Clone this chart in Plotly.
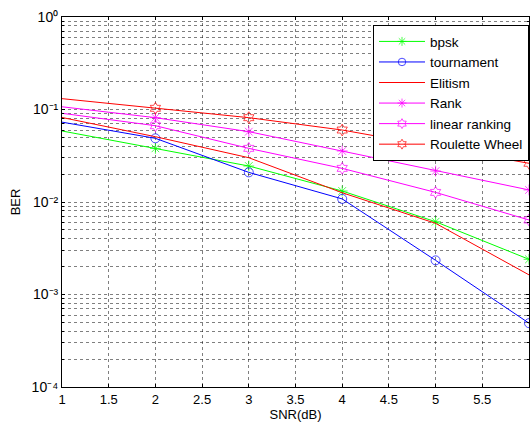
import plotly.graph_objects as go

# SNR points (dB) and BER per selection scheme
snr = [1, 2, 3, 4, 5, 6]
ber_bpsk = [0.0586, 0.038, 0.0245, 0.01315, 0.00612, 0.00240]
ber_tournament = [0.073, 0.0488, 0.0209, 0.0108, 0.00234, 0.00049]
ber_elitism = [0.082, 0.0508, 0.0301, 0.0126, 0.00588, 0.00163]
ber_rank = [0.107, 0.0816, 0.0576, 0.0356, 0.0216, 0.0135]
ber_linear = [0.091, 0.0668, 0.038, 0.0231, 0.0127, 0.00639]
ber_roulette = [0.131, 0.103, 0.0816, 0.060, 0.040, 0.0262]

x_ticks = [1, 1.5, 2, 2.5, 3, 3.5, 4, 4.5, 5, 5.5, 6]
decades = [-4, -3, -2, -1, 0]
decade_labels = ["10⁻⁴", "10⁻³", "10⁻²", "10⁻¹", "10⁰"]

FONT = "Liberation Sans, Arial, sans-serif"

series = [
    ("bpsk", ber_bpsk, "rgb(0,255,0)", "asterisk-open"),
    ("tournament", ber_tournament, "rgb(0,0,255)", "circle-open"),
    ("Elitism", ber_elitism, "rgb(255,0,0)", None),
    ("Rank", ber_rank, "rgb(255,0,255)", "asterisk-open"),
    ("linear ranking", ber_linear, "rgb(255,0,255)", "hexagram-open"),
    ("Roulette Wheel", ber_roulette, "rgb(255,0,0)", "hexagram-open"),
]

fig = go.Figure()
for name, vals, color, sym in series:
    if sym is None:
        fig.add_trace(go.Scatter(x=snr, y=vals, name=name, mode="lines",
                                 line=dict(color=color, width=1)))
    else:
        # first sample sits on the left axis edge and carries no marker
        sizes = [0] + [9] * (len(snr) - 1)
        fig.add_trace(go.Scatter(x=snr, y=vals, name=name, mode="lines+markers",
                                 line=dict(color=color, width=1),
                                 marker=dict(symbol=sym, size=sizes, color=color,
                                             line=dict(color=color, width=1))))

# decade labels on the log axis, mantissas 2..9 as minor grid
y_major = [10.0 ** d for d in decades]
y_minor = [m * 10.0 ** d for d in decades[:-1] for m in range(2, 10)]

grid = dict(showgrid=True, gridcolor="rgba(0,0,0,0.5)", griddash="dot", gridwidth=1)

fig.update_layout(
    width=530, height=424,
    margin=dict(l=62, r=1, t=17, b=37),
    paper_bgcolor="white", plot_bgcolor="white",
    font=dict(family=FONT, size=13, color="black"),
    xaxis=dict(range=[1, 6], tickvals=x_ticks, ticktext=[f"{v:g}" for v in x_ticks],
               title=dict(text="SNR(dB)", standoff=4, font=dict(size=13)),
               showline=True, linecolor="black", linewidth=1, mirror="allticks",
               ticks="inside", ticklen=3, tickcolor="black", zeroline=False, **grid),
    yaxis=dict(type="log", range=[-4, 0], tickvals=y_major, ticktext=decade_labels,
               tickfont=dict(size=14),
               title=dict(text="BER", standoff=8, font=dict(size=13)),
               showline=True, linecolor="black", linewidth=1, mirror="allticks",
               ticks="inside", ticklen=3, tickcolor="black", zeroline=False,
               minor=dict(tickmode="array", tickvals=y_minor, ticks="inside",
                          ticklen=2, tickcolor="black", **grid),
               **grid),
    legend=dict(x=1, xanchor="right", y=0.978, yanchor="top",
                bgcolor="white", bordercolor="black", borderwidth=1,
                font=dict(family=FONT, size=13.5), tracegroupgap=0, itemwidth=46),
    showlegend=True,
)

fig.write_html("out.html")
